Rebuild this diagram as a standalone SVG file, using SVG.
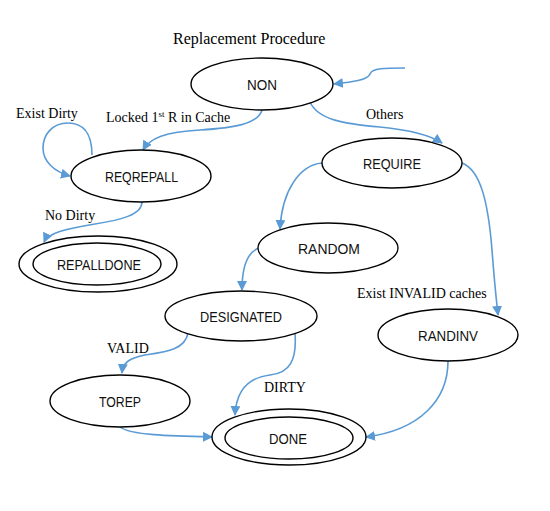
<svg xmlns="http://www.w3.org/2000/svg" width="550" height="511" viewBox="0 0 550 511">
<style>
.n{fill:#fff;stroke:#000;stroke-width:1.4}
.t{font-family:"Liberation Sans",Arial,sans-serif;font-size:15px;fill:#111;text-anchor:middle}
.l{font-family:"Liberation Serif","Times New Roman",serif;font-size:14px;fill:#000}
.c{fill:none;stroke:#5b9bd5;stroke-width:1.6;marker-end:url(#a)}
</style>
<defs>
<marker id="a" viewBox="0 0 10 10" refX="9" refY="5" markerWidth="10" markerHeight="10" markerUnits="userSpaceOnUse" orient="auto">
<path d="M0,0L10,5L0,10z" fill="#5b9bd5"/>
</marker>
</defs>
<rect width="550" height="511" fill="#fff"/>
<text x="173" y="44" style="font-family:'Liberation Serif','Times New Roman',serif;font-size:16px">Replacement Procedure</text>
<g id="connectors">
<path class="c" d="M405,68 C385,68 372,68 370,74 C368,80 352,82 334,84"/>
<path class="c" d="M92,155 C92,132 82,123 68,123 C52,123 43,135 43,148 C43,162 55,172 70,176"/>
<path class="c" d="M262,110 C258,125 230,128 200,130 C165,132 150,138 143,150"/>
<path class="c" d="M310,102 C318,120 345,124 380,127 C410,130 430,135 442,143"/>
<path class="c" d="M142,202 C142,215 120,220 95,224 C65,229 48,233 44,242"/>
<path class="c" d="M322,163 C300,165 282,190 280,229"/>
<path class="c" d="M462,163 C480,170 488,200 492,250 C495,290 497,305 498,315"/>
<path class="c" d="M259,248 C248,252 242,265 242,290"/>
<path class="c" d="M188,333 C185,350 165,352 145,355 C130,358 123,362 122,373"/>
<path class="c" d="M295,333 C297,360 290,373 270,375 C245,378 236,395 235,415"/>
<path class="c" d="M120,427 C130,435 170,436 212,437"/>
<path class="c" d="M448,361 C448,400 420,430 366,437"/>
</g>
<g id="labels">
<text class="l" x="16" y="118">Exist Dirty</text>
<text class="l" x="106" y="122">Locked 1<tspan font-size="9" dy="-5">st</tspan><tspan dy="5"> R in Cache</tspan></text>
<text class="l" x="366" y="119">Others</text>
<text class="l" x="45" y="220">No Dirty</text>
<text class="l" x="357" y="298">Exist INVALID caches</text>
<text class="l" x="107" y="353">VALID</text>
<text class="l" x="264" y="392">DIRTY</text>
</g>
<g id="NON"><ellipse class="n" cx="262" cy="84" rx="71" ry="26"/><text class="t" x="262" y="90" textLength="30" lengthAdjust="spacingAndGlyphs">NON</text></g>
<g id="REQREPALL"><ellipse class="n" cx="141" cy="176" rx="70" ry="26"/><text class="t" x="141.5" y="182" textLength="73" lengthAdjust="spacingAndGlyphs">REQREPALL</text></g>
<g id="REPALLDONE"><ellipse class="n" cx="98" cy="264" rx="79" ry="28"/><ellipse class="n" cx="97" cy="264" rx="64" ry="21"/><text class="t" x="99" y="270" textLength="84" lengthAdjust="spacingAndGlyphs">REPALLDONE</text></g>
<g id="REQUIRE"><ellipse class="n" cx="392" cy="163" rx="70" ry="25"/><text class="t" x="392" y="169" textLength="58" lengthAdjust="spacingAndGlyphs">REQUIRE</text></g>
<g id="RANDOM"><ellipse class="n" cx="328" cy="248" rx="70" ry="25"/><text class="t" x="329" y="254" textLength="62" lengthAdjust="spacingAndGlyphs">RANDOM</text></g>
<g id="DESIGNATED"><ellipse class="n" cx="241" cy="316" rx="76" ry="25"/><text class="t" x="241" y="322" textLength="82" lengthAdjust="spacingAndGlyphs">DESIGNATED</text></g>
<g id="RANDINV"><ellipse class="n" cx="448" cy="335" rx="70" ry="26"/><text class="t" x="448" y="341" textLength="60" lengthAdjust="spacingAndGlyphs">RANDINV</text></g>
<g id="TOREP"><ellipse class="n" cx="120" cy="401" rx="70" ry="26"/><text class="t" x="120" y="407" textLength="42" lengthAdjust="spacingAndGlyphs">TOREP</text></g>
<g id="DONE"><ellipse class="n" cx="289" cy="437" rx="77" ry="28"/><ellipse class="n" cx="289" cy="438" rx="64" ry="21"/><text class="t" x="288" y="444" textLength="38" lengthAdjust="spacingAndGlyphs">DONE</text></g>
</svg>
